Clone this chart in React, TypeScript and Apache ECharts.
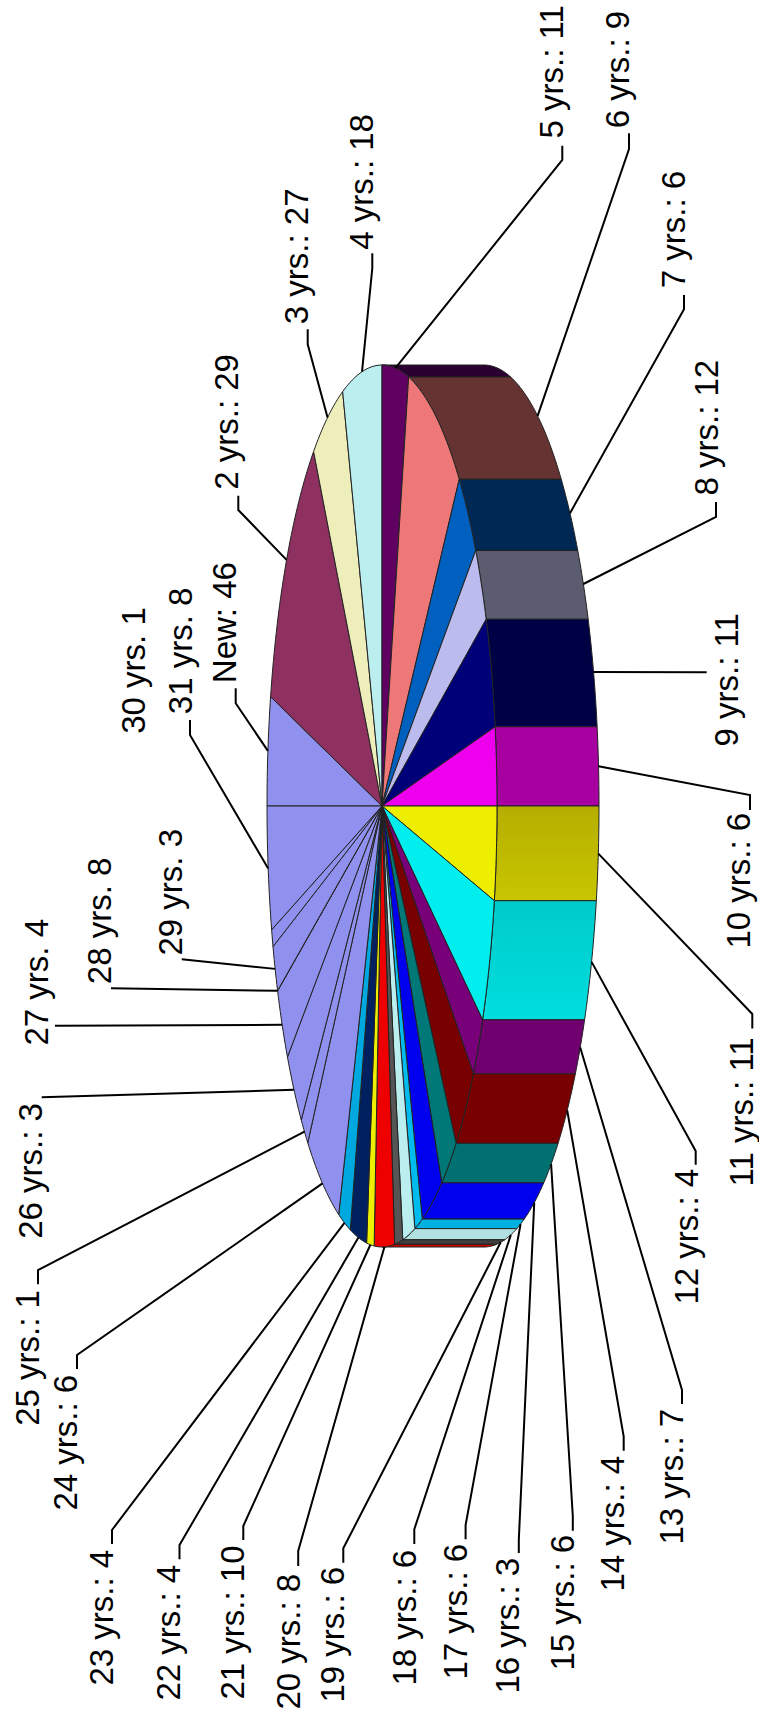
import React, { useEffect, useRef } from "react";
import * as echarts from "echarts";

// ---- data ----
const categories = ["New","2 yrs.","3 yrs.","4 yrs.","5 yrs.","6 yrs.","7 yrs.","8 yrs.","9 yrs.","10 yrs.","11 yrs.","12 yrs.","13 yrs.","14 yrs.","15 yrs.","16 yrs.","17 yrs.","18 yrs.","19 yrs.","20 yrs.","21 yrs.","22 yrs.","23 yrs.","24 yrs.","25 yrs.","26 yrs.","27 yrs.","28 yrs.","29 yrs.","30 yrs.","31 yrs."];
const labelValues = [46,29,27,18,11,9,6,12,11,6,11,4,7,4,6,3,6,6,6,8,10,4,4,6,1,3,4,8,3,1,8];
// The drawn wedges are not proportional to the printed numbers, so their angular sizes are read separately.
const sliceDegrees = [14.35,39.15,16.5,20,13.4,28.8,12.4,10.35,14.7,10.35,12.4,16.6,8.4,12.5,8.8,10.8,3.9,6.2,4.1,10.2,3.8,8.3,6.1,18.1,4.4,10.7,9.9,0.05,6.15,2.3,16.3];

// ---- styles ----
const P = "#9090EE";
const topColors = [P,"#8E3060","#EEEEBB","#BBEEEE","#600060","#EE7878","#0060C0","#BBBBEE","#000078","#EE00EE","#EEEE00","#00EEEE","#780078","#780000","#007878","#0000EE","#00BBEE","#BBEEEE","#555555","#EE0000","#EEEE00","#002060","#00A8E0",P,P,P,P,P,P,P,P];
const wallColors: any[] = [P,P,P,P,"#2A0030","#663333","#002855","#5C5C70","#000045","#A800A0",["#B5AE00","#C8C600"],["#00CACA","#00DEDE"],"#700070","#780000","#007070","#0000EE","#00B0E0","#B0E0E0","#404040","#CC0000",P,P,P,P,P,P,P,P,P,P,P];

// ---- layout ----
const W = 759, H = 1723;
const cx = 382, cy = 806, rx = 115, ry = 441, depth = 102;
const FONT_SIZE = 33;
const TEXT_SHIFT = 0;
// [centre of the digit band (x), start of the text (y)]
const labelPos = [[224.3,681.7],[226.5,488.3],[296.5,322.7],[361.2,248.3],[551.3,137],[617.8,126.7],[673.3,286.7],[706,494],[726.5,745],[738.3,947],[741.5,1185],[686,1303],[671.5,1543],[612.4,1590],[562.2,1669],[507.8,1692],[455,1678],[404,1684],[332.8,1701],[288,1708],[232,1698],[168.5,1699],[101.4,1684],[65.8,1509],[27,1424.3],[30.5,1237.3],[36.2,1044],[99.5,982.7],[170.3,954],[133.3,732.3],[180,712.7]];
// leader bend points, from the pie outwards (null: no leader)
const leaderBends: (number[][] | null)[] = [
  [[235.7,703.3],[235.7,688.3]],[[238.3,510],[238.3,495.7]],[[307.7,344.3],[307.7,329.3]],[[372.3,268.3],[372.3,253.3]],
  [[562.3,160],[562.3,145.7]],[[629,149],[629,133.3]],[[684,309.3],[684,295]],[[716,517],[716,502]],
  [[706.7,672.3]],[[750,795],[750,810]],[[752.3,1014],[752.3,1028.6]],[[695.7,1151],[695.7,1164.7]],
  [[682,1390],[682,1404]],[[623.7,1436.7],[623.7,1450.7]],[[572.8,1516],[572.8,1530.7]],[[518.8,1540],[518.8,1553]],
  [[465.6,1525],[465.6,1539.3]],[[414.3,1529.3],[414.3,1544]],[[343.3,1548.3],[343.3,1562.7]],[[298.2,1551],[298.2,1566]],
  [[243.3,1526],[243.3,1540]],[[179.5,1545],[179.5,1559.3]],[[112,1530],[112,1544]],[[77,1355],[77,1369]],
  [[38,1270],[38,1284.3]],[[41.7,1097.3]],[[55,1025.7]],[[111,988.3]],[[181.7,959.3]],null,[[190,735],[190,720]],
];

const rad = (a: number) => (a * Math.PI) / 180;
const rim = (a: number, shift = 0) => [cx - rx * Math.cos(rad(a)) + shift, cy - ry * Math.sin(rad(a))];
const starts: number[] = [];
sliceDegrees.reduce((acc, d, i) => { starts[i] = acc; return acc + d; }, 0);
const arc = (a: number, b: number, shift = 0) => {
  const n = Math.max(1, Math.ceil(Math.abs(b - a)));
  const pts: number[][] = [];
  for (let k = 0; k <= n; k++) pts.push(rim(a + ((b - a) * k) / n, shift));
  return pts;
};

const wallFill = (c: any) => Array.isArray(c)
  ? new echarts.graphic.LinearGradient(0, 0, 0, 1, [{ offset: 0, color: c[0] }, { offset: 1, color: c[1] }])
  : c;

const seriesData = labelValues.map((v, i) => [i, v]);
const edge = { stroke: "#222", lineWidth: 1, lineJoin: "round" as const };

export default function App() {
  const ref = useRef<HTMLDivElement>(null);
  useEffect(() => {
    const chart = echarts.init(ref.current!, undefined, { renderer: "svg", width: W, height: H });
    chart.setOption({
      animation: false,
      backgroundColor: "#fff",
      series: [
        {
          type: "custom", coordinateSystem: "none", silent: true, data: seriesData, z: 1,
          renderItem: (p: any) => {
            const i = p.dataIndex;
            const a = Math.max(starts[i], 90), b = Math.min(starts[i] + sliceDegrees[i], 270);
            if (b <= a) return { type: "group", children: [] };
            return { type: "polygon", shape: { points: [...arc(a, b), ...arc(b, a, depth)] }, style: { fill: wallFill(wallColors[i]), ...edge } };
          },
        },
        {
          type: "custom", coordinateSystem: "none", silent: true, data: seriesData, z: 2,
          renderItem: (p: any) => {
            const i = p.dataIndex;
            return { type: "polygon", shape: { points: [[cx, cy], ...arc(starts[i], starts[i] + sliceDegrees[i])] }, style: { fill: topColors[i], ...edge } };
          },
        },
        {
          type: "custom", coordinateSystem: "none", silent: true, data: seriesData, z: 3,
          renderItem: (p: any) => {
            const i = p.dataIndex;
            const bends = leaderBends[i];
            if (!bends) return { type: "group", children: [] };
            const mid = starts[i] + sliceDegrees[i] / 2;
            const onWall = mid > 103.4 && mid < 263.7;
            return { type: "polyline", shape: { points: [rim(mid, onWall ? depth : 0), ...bends] }, style: { fill: "none", stroke: "#000", lineWidth: 2 } };
          },
        },
        {
          type: "custom", coordinateSystem: "none", silent: true, data: seriesData, z: 4,
          renderItem: (p: any, api: any) => {
            const i = p.dataIndex;
            const sep = i >= 26 ? " " : ": ";
            return {
              type: "text", x: labelPos[i][0] + TEXT_SHIFT, y: labelPos[i][1] + 1.5, rotation: Math.PI / 2,
              style: { text: `${categories[i]}${sep}${api.value(1)}`, fill: "#000", font: `${FONT_SIZE}px "Liberation Sans", Arial, sans-serif`, textAlign: "left", textVerticalAlign: "middle", verticalAlign: "middle" },
            };
          },
        },
      ],
    });
    return () => chart.dispose();
  }, []);
  return <div ref={ref} style={{ position: "absolute", left: 0, top: 0, width: W, height: H }} />;
}
